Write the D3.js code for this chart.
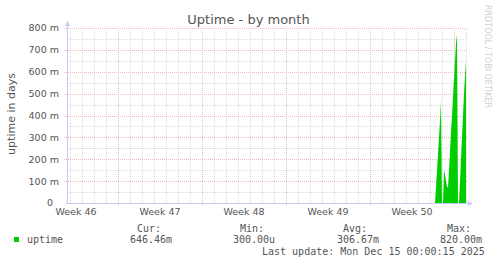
<!DOCTYPE html>
<html>
<head>
<meta charset="utf-8">
<script src="https://cdn.jsdelivr.net/npm/d3@7"></script>
<style>
  body { margin: 0; background: #fff; }
  svg { display: block; font-family: "DejaVu Sans", sans-serif; }
</style>
</head>
<body>
<svg width="497" height="264"></svg>
<script>
// time window of the month graph (400 px, 2 h per pixel)
const rangeStart = "2025-11-12T18:00Z";
const rangeEnd = "2025-12-16T02:00Z";

// uptime samples (days), one per 2 h step
const times = [
  "2025-12-13T10:00Z", "2025-12-13T12:00Z", "2025-12-13T14:00Z", "2025-12-13T16:00Z",
  "2025-12-13T18:00Z", "2025-12-13T20:00Z", "2025-12-13T22:00Z", "2025-12-14T00:00Z",
  "2025-12-14T02:00Z", "2025-12-14T04:00Z", "2025-12-14T06:00Z", "2025-12-14T08:00Z",
  "2025-12-14T10:00Z", "2025-12-14T12:00Z", "2025-12-14T14:00Z", "2025-12-14T16:00Z",
  "2025-12-14T18:00Z", "2025-12-14T20:00Z", "2025-12-14T22:00Z", "2025-12-15T00:00Z",
  "2025-12-15T02:00Z", "2025-12-15T04:00Z", "2025-12-15T06:00Z", "2025-12-15T08:00Z",
  "2025-12-15T10:00Z", "2025-12-15T12:00Z", "2025-12-15T14:00Z", "2025-12-15T16:00Z",
  "2025-12-15T18:00Z", "2025-12-15T20:00Z", "2025-12-15T22:00Z", "2025-12-16T00:00Z",
];
const uptime = [
  0, 0.075, 0.15, 0.225, 0.3, 0.375, 0.468, 0,
  0, 0.15, 0.13, 0.1, 0.075, 0.07, 0.15, 0.235,
  0.32, 0.4, 0.485, 0.57, 0.65, 0.73, 0.77, 0,
  0, 0.1, 0.2, 0.3, 0.4, 0.5, 0.58, 0.64646,
];

const yTicks = [0, 0.1, 0.2, 0.3, 0.4, 0.5, 0.6, 0.7, 0.8];
const weekStarts = ["2025-11-10", "2025-11-17", "2025-11-24", "2025-12-01", "2025-12-08"];
const weekLabels = ["Week 46", "Week 47", "Week 48", "Week 49", "Week 50"];

const legendHeads = ["Cur:", "Min:", "Avg:", "Max:"];
const legendValues = ["646.46m", "300.00u", "306.67m", "820.00m"];
const lastUpdate = "Last update: Mon Dec 15 00:00:15 2025";

const area = { left: 67, right: 467, top: 28, bottom: 203 };
const textColor = "#555";
const green = "#00cc00";
const minorColor = "#dcdcdc";
const majorColor = "#eebcbc";

const svg = d3.select("svg");
const data = times.map((t, i) => ({ t: d3.isoParse(t), v: uptime[i] }));
const t0 = d3.isoParse(rangeStart);
const t1 = d3.isoParse(rangeEnd);

const scX = d3.scaleUtc().domain([t0, t1]).range([area.left, area.right]);
const scY = d3.scaleLinear().domain([0, 0.8]).range([area.bottom, area.top]);

function drawGrid() {
  const g = svg.append("g").attr("shape-rendering", "crispEdges");

  // minor grid: every day / every 50 m
  g.selectAll(".vmin")
    .data(d3.utcDay.range(t0, t1))
    .enter()
    .append("line")
    .attr("x1", (d) => Math.round(scX(d)) + 0.5)
    .attr("x2", (d) => Math.round(scX(d)) + 0.5)
    .attr("y1", area.top)
    .attr("y2", area.bottom + 1)
    .attr("stroke", minorColor)
    .attr("stroke-dasharray", "1,1");

  g.selectAll(".hmin")
    .data(d3.range(0.05, 0.8, 0.1))
    .enter()
    .append("line")
    .attr("x1", area.left)
    .attr("x2", area.right)
    .attr("y1", (d) => Math.round(scY(d)) + 0.5)
    .attr("y2", (d) => Math.round(scY(d)) + 0.5)
    .attr("stroke", minorColor)
    .attr("stroke-dasharray", "1,1");

  // major grid: weeks / every 100 m
  g.selectAll(".vmaj")
    .data(d3.utcMonday.range(t0, t1))
    .enter()
    .append("line")
    .attr("x1", (d) => Math.round(scX(d)) + 0.5)
    .attr("x2", (d) => Math.round(scX(d)) + 0.5)
    .attr("y1", area.top)
    .attr("y2", area.bottom + 3)
    .attr("stroke", majorColor)
    .attr("stroke-dasharray", "1,1");

  g.selectAll(".hmaj")
    .data(yTicks.slice(1))
    .enter()
    .append("line")
    .attr("x1", area.left - 3)
    .attr("x2", area.right + 1)
    .attr("y1", (d) => Math.round(scY(d)) + 0.5)
    .attr("y2", (d) => Math.round(scY(d)) + 0.5)
    .attr("stroke", majorColor)
    .attr("stroke-dasharray", "1,1");
}

function drawArea() {
  const shape = d3
    .area()
    .x((d) => scX(d.t))
    .y0(scY(0) + 0.5)
    .y1((d) => scY(d.v));

  svg.append("path").datum(data).attr("d", shape).attr("fill", green);
}

function drawAxes() {
  const axisColor = "#c4cbf4";
  const g = svg.append("g");

  g.append("line")
    .attr("x1", area.left + 0.5)
    .attr("x2", area.left + 0.5)
    .attr("y1", area.bottom + 1)
    .attr("y2", area.top - 4)
    .attr("stroke", axisColor);
  g.append("path")
    .attr("d", `M${area.left - 2},${area.top - 2} L${area.left + 3},${area.top - 2} L${area.left + 0.5},${area.top - 7} Z`)
    .attr("fill", axisColor);

  g.append("line")
    .attr("x1", area.left - 1)
    .attr("x2", area.right + 3)
    .attr("y1", area.bottom + 0.5)
    .attr("y2", area.bottom + 0.5)
    .attr("stroke", axisColor);
  g.append("path")
    .attr("d", `M${area.right + 1},${area.bottom - 2} L${area.right + 1},${area.bottom + 3} L${area.right + 6},${area.bottom + 0.5} Z`)
    .attr("fill", axisColor);

  // y labels
  svg.append("g")
    .selectAll("text")
    .data(yTicks)
    .enter()
    .append("text")
    .attr("x", (d) => (d === 0 ? 53 : 59))
    .attr("y", (d) => scY(d))
    .attr("dy", "0.36em")
    .attr("text-anchor", "end")
    .attr("font-size", "9.5px")
    .attr("fill", textColor)
    .text((d) => (d === 0 ? "0" : Math.round(d * 1000) + " m"));

  // week labels, centred on the middle of each week
  const halfWeek = 3.5 * 24 * 3600 * 1000;
  svg.append("g")
    .selectAll("text")
    .data(weekStarts)
    .enter()
    .append("text")
    .attr("x", (d) => scX(new Date(d3.isoParse(d + "T00:00Z").getTime() + halfWeek)))
    .attr("y", 214.5)
    .attr("text-anchor", "middle")
    .attr("font-size", "9.5px")
    .attr("fill", textColor)
    .text((d, i) => weekLabels[i]);
}

function drawTexts() {
  svg.append("text")
    .attr("x", 248.5)
    .attr("y", 24)
    .attr("text-anchor", "middle")
    .attr("font-size", "13px")
    .attr("fill", textColor)
    .text("Uptime - by month");

  svg.append("text")
    .attr("transform", "translate(15,114) rotate(-90)")
    .attr("text-anchor", "middle")
    .attr("font-size", "11px")
    .attr("fill", textColor)
    .text("uptime in days");

  svg.append("text")
    .attr("transform", "translate(485,5) rotate(90)")
    .attr("font-size", "8px")
    .attr("fill", "#d0d0d0")
    .text("RRDTOOL / TOBI OETIKER");
}

function drawLegend() {
  const mono = "'DejaVu Sans Mono', monospace";
  const headX = [137, 240, 343, 447];
  const valueX = [130, 233, 337, 440];
  const g = svg.append("g").attr("font-family", mono).attr("font-size", "10px").attr("fill", textColor);

  g.selectAll(".head")
    .data(legendHeads)
    .enter()
    .append("text")
    .attr("x", (d, i) => headX[i])
    .attr("y", 231.5)
    .text((d) => d);

  g.selectAll(".val")
    .data(legendValues)
    .enter()
    .append("text")
    .attr("x", (d, i) => valueX[i])
    .attr("y", 243)
    .text((d) => d);

  svg.append("rect")
    .attr("x", 14)
    .attr("y", 237)
    .attr("width", 5)
    .attr("height", 5)
    .attr("fill", green);

  g.append("text").attr("x", 27).attr("y", 243).text("uptime");
  g.append("text").attr("x", 262).attr("y", 254.5).text(lastUpdate);
}

drawGrid();
drawArea();
drawAxes();
drawTexts();
drawLegend();
</script>
</body>
</html>
